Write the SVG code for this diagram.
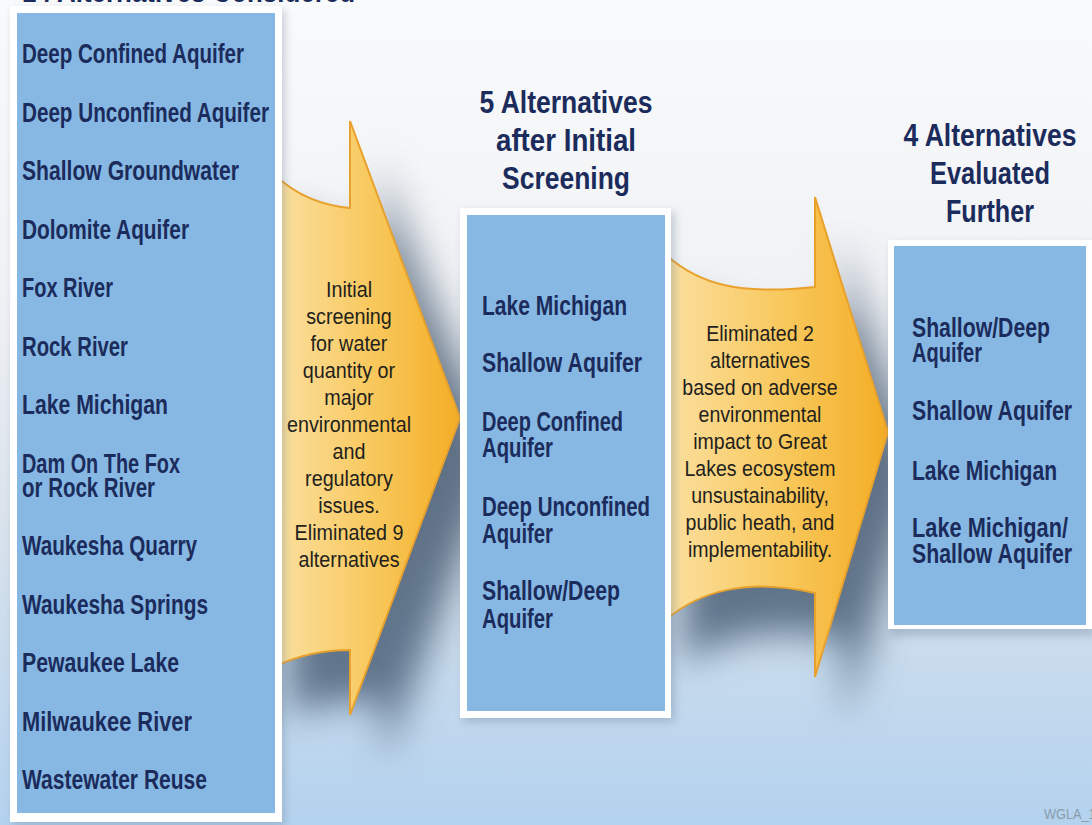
<svg xmlns="http://www.w3.org/2000/svg" width="1092" height="825" viewBox="0 0 1092 825">
<defs>
<linearGradient id="bg" x1="0" y1="0" x2="0" y2="1">
<stop offset="0" stop-color="#f9fafb"/>
<stop offset="0.35" stop-color="#f0f2f5"/>
<stop offset="0.62" stop-color="#dbe3ec"/>
<stop offset="1" stop-color="#b3d2ee"/>
</linearGradient>
<linearGradient id="arrowFill" x1="0" y1="0" x2="1" y2="0">
<stop offset="0" stop-color="#fbe0a0"/>
<stop offset="0.55" stop-color="#f8c75a"/>
<stop offset="1" stop-color="#f4ad25"/>
</linearGradient>
<linearGradient id="shadFill" x1="0" y1="0" x2="0" y2="1">
<stop offset="0" stop-color="#9aa5b2"/>
<stop offset="0.45" stop-color="#5f7084"/>
<stop offset="1" stop-color="#62788f"/>
</linearGradient>
<filter id="shadow" x="-40%" y="-30%" width="180%" height="160%">
<feGaussianBlur stdDeviation="18"/>
</filter>
<filter id="boxShadow" x="-10%" y="-10%" width="130%" height="130%">
<feGaussianBlur stdDeviation="4"/>
</filter>
<style>
.lbl{font-family:"Liberation Sans",Arial,sans-serif;font-weight:bold;font-size:27.5px;fill:#1b2c5c}
.hdr{font-family:"Liberation Sans",Arial,sans-serif;font-weight:bold;font-size:32px;fill:#1b2c5c;text-anchor:middle}
.arw{font-family:"Liberation Sans",Arial,sans-serif;font-size:21.5px;fill:#231f1c;text-anchor:middle}
.frame{fill:#ffffff}
.blue{fill:#87b8e3}
.arrow{fill:url(#arrowFill);stroke:#e8a12c;stroke-width:2;stroke-linejoin:miter}
.shad{fill:url(#shadFill)}
</style>
</defs>

<rect x="0" y="0" width="1092" height="825" fill="url(#bg)"/>

<text class="hdr" x="22" y="2" textLength="333" lengthAdjust="spacingAndGlyphs" style="text-anchor:start">14 Alternatives Considered</text>

<g id="connectors">
<g id="arrow1">
<path class="shad" filter="url(#shadow)" d="M 290,205 Q 325,232 380,238 L 380,160 L 498,460 L 385,760 L 380,700 Q 330,700 290,715 Z"/>
<path class="arrow" d="M 276,176 Q 306,204 350,208 L 350,121 L 460,418 L 350,715 L 350,650 Q 310,650 276,666 Z"/>
<g transform="translate(349,0) scale(0.92,1)">
<text class="arw" x="0" y="297">Initial</text>
<text class="arw" x="0" y="324">screening</text>
<text class="arw" x="0" y="351">for water</text>
<text class="arw" x="0" y="378">quantity or</text>
<text class="arw" x="0" y="405">major</text>
<text class="arw" x="0" y="432">environmental</text>
<text class="arw" x="0" y="459">and</text>
<text class="arw" x="0" y="486">regulatory</text>
<text class="arw" x="0" y="513">issues.</text>
<text class="arw" x="0" y="540">Eliminated 9</text>
<text class="arw" x="0" y="567">alternatives</text>
</g>
</g>
<g id="arrow2">
<path class="shad" filter="url(#shadow)" d="M 684,290 C 716,318 760,330 842,322 L 842,236 L 920,475 L 845,720 L 842,640 C 775,625 720,636 684,665 Z"/>
<path class="arrow" d="M 666,255 C 700,285 740,295 815,287 L 815,197 L 888,432 L 815,677 L 815,593 C 750,578 700,590 666,620 Z"/>
<g transform="translate(760,0) scale(0.91,1)">
<text class="arw" x="0" y="341">Eliminated 2</text>
<text class="arw" x="0" y="368">alternatives</text>
<text class="arw" x="0" y="395">based on adverse</text>
<text class="arw" x="0" y="422">environmental</text>
<text class="arw" x="0" y="449">impact to Great</text>
<text class="arw" x="0" y="476">Lakes ecosystem</text>
<text class="arw" x="0" y="503">unsustainability,</text>
<text class="arw" x="0" y="530">public heath, and</text>
<text class="arw" x="0" y="557">implementability.</text>
</g>
</g>
</g>

<g id="box1">
<rect x="13" y="10" width="272" height="816" fill="#6a7f95" opacity="0.35" filter="url(#boxShadow)"/>
<rect class="frame" x="10" y="6" width="272" height="816"/>
<rect class="blue" x="17" y="13" width="258" height="800"/>
<text class="lbl" x="22" y="63" textLength="222" lengthAdjust="spacingAndGlyphs">Deep Confined Aquifer</text>
<text class="lbl" x="22" y="121.5" textLength="247" lengthAdjust="spacingAndGlyphs">Deep Unconfined Aquifer</text>
<text class="lbl" x="22" y="180" textLength="217" lengthAdjust="spacingAndGlyphs">Shallow Groundwater</text>
<text class="lbl" x="22" y="238.5" textLength="167" lengthAdjust="spacingAndGlyphs">Dolomite Aquifer</text>
<text class="lbl" x="22" y="297" textLength="91" lengthAdjust="spacingAndGlyphs">Fox River</text>
<text class="lbl" x="22" y="355.5" textLength="106" lengthAdjust="spacingAndGlyphs">Rock River</text>
<text class="lbl" x="22" y="414" textLength="146" lengthAdjust="spacingAndGlyphs">Lake Michigan</text>
<text class="lbl" x="22" y="472.5" textLength="158" lengthAdjust="spacingAndGlyphs">Dam On The Fox</text>
<text class="lbl" x="22" y="496.5" textLength="133" lengthAdjust="spacingAndGlyphs">or Rock River</text>
<text class="lbl" x="22" y="555" textLength="175" lengthAdjust="spacingAndGlyphs">Waukesha Quarry</text>
<text class="lbl" x="22" y="613.5" textLength="186" lengthAdjust="spacingAndGlyphs">Waukesha Springs</text>
<text class="lbl" x="22" y="672" textLength="157" lengthAdjust="spacingAndGlyphs">Pewaukee Lake</text>
<text class="lbl" x="22" y="730.5" textLength="170" lengthAdjust="spacingAndGlyphs">Milwaukee River</text>
<text class="lbl" x="22" y="789" textLength="185" lengthAdjust="spacingAndGlyphs">Wastewater Reuse</text>
</g>

<g id="box2">
<text class="hdr" x="566" y="113" textLength="173" lengthAdjust="spacingAndGlyphs">5 Alternatives</text>
<text class="hdr" x="566" y="151" textLength="140" lengthAdjust="spacingAndGlyphs">after Initial</text>
<text class="hdr" x="566" y="189" textLength="128" lengthAdjust="spacingAndGlyphs">Screening</text>
<rect x="463" y="212" width="212" height="510" fill="#6a7f95" opacity="0.35" filter="url(#boxShadow)"/>
<rect class="frame" x="460" y="208" width="211" height="510"/>
<rect class="blue" x="467" y="215" width="198" height="496"/>
<text class="lbl" x="482" y="315" textLength="145" lengthAdjust="spacingAndGlyphs">Lake Michigan</text>
<text class="lbl" x="482" y="372" textLength="160" lengthAdjust="spacingAndGlyphs">Shallow Aquifer</text>
<text class="lbl" x="482" y="431" textLength="141" lengthAdjust="spacingAndGlyphs">Deep Confined</text>
<text class="lbl" x="482" y="457" textLength="71" lengthAdjust="spacingAndGlyphs">Aquifer</text>
<text class="lbl" x="482" y="516" textLength="168" lengthAdjust="spacingAndGlyphs">Deep Unconfined</text>
<text class="lbl" x="482" y="543" textLength="71" lengthAdjust="spacingAndGlyphs">Aquifer</text>
<text class="lbl" x="482" y="600" textLength="138" lengthAdjust="spacingAndGlyphs">Shallow/Deep</text>
<text class="lbl" x="482" y="628" textLength="71" lengthAdjust="spacingAndGlyphs">Aquifer</text>
</g>

<g id="box3">
<text class="hdr" x="990" y="146" textLength="173" lengthAdjust="spacingAndGlyphs">4 Alternatives</text>
<text class="hdr" x="990" y="184" textLength="120" lengthAdjust="spacingAndGlyphs">Evaluated</text>
<text class="hdr" x="990" y="222" textLength="88" lengthAdjust="spacingAndGlyphs">Further</text>
<rect x="891" y="244" width="204" height="392" fill="#6a7f95" opacity="0.35" filter="url(#boxShadow)"/>
<rect class="frame" x="888" y="240" width="204" height="389"/>
<rect class="blue" x="894" y="246" width="192" height="379"/>
<text class="lbl" x="912" y="337" textLength="138" lengthAdjust="spacingAndGlyphs">Shallow/Deep</text>
<text class="lbl" x="912" y="362" textLength="70" lengthAdjust="spacingAndGlyphs">Aquifer</text>
<text class="lbl" x="912" y="420" textLength="160" lengthAdjust="spacingAndGlyphs">Shallow Aquifer</text>
<text class="lbl" x="912" y="480" textLength="145" lengthAdjust="spacingAndGlyphs">Lake Michigan</text>
<text class="lbl" x="912" y="537" textLength="156" lengthAdjust="spacingAndGlyphs">Lake Michigan/</text>
<text class="lbl" x="912" y="563" textLength="160" lengthAdjust="spacingAndGlyphs">Shallow Aquifer</text>
</g>

<text x="1044" y="819" font-family="Liberation Sans, Arial, sans-serif" font-size="15" fill="#8a9bab" transform="translate(1044,0) scale(0.85,1) translate(-1044,0)">WGLA_11</text>
</svg>
